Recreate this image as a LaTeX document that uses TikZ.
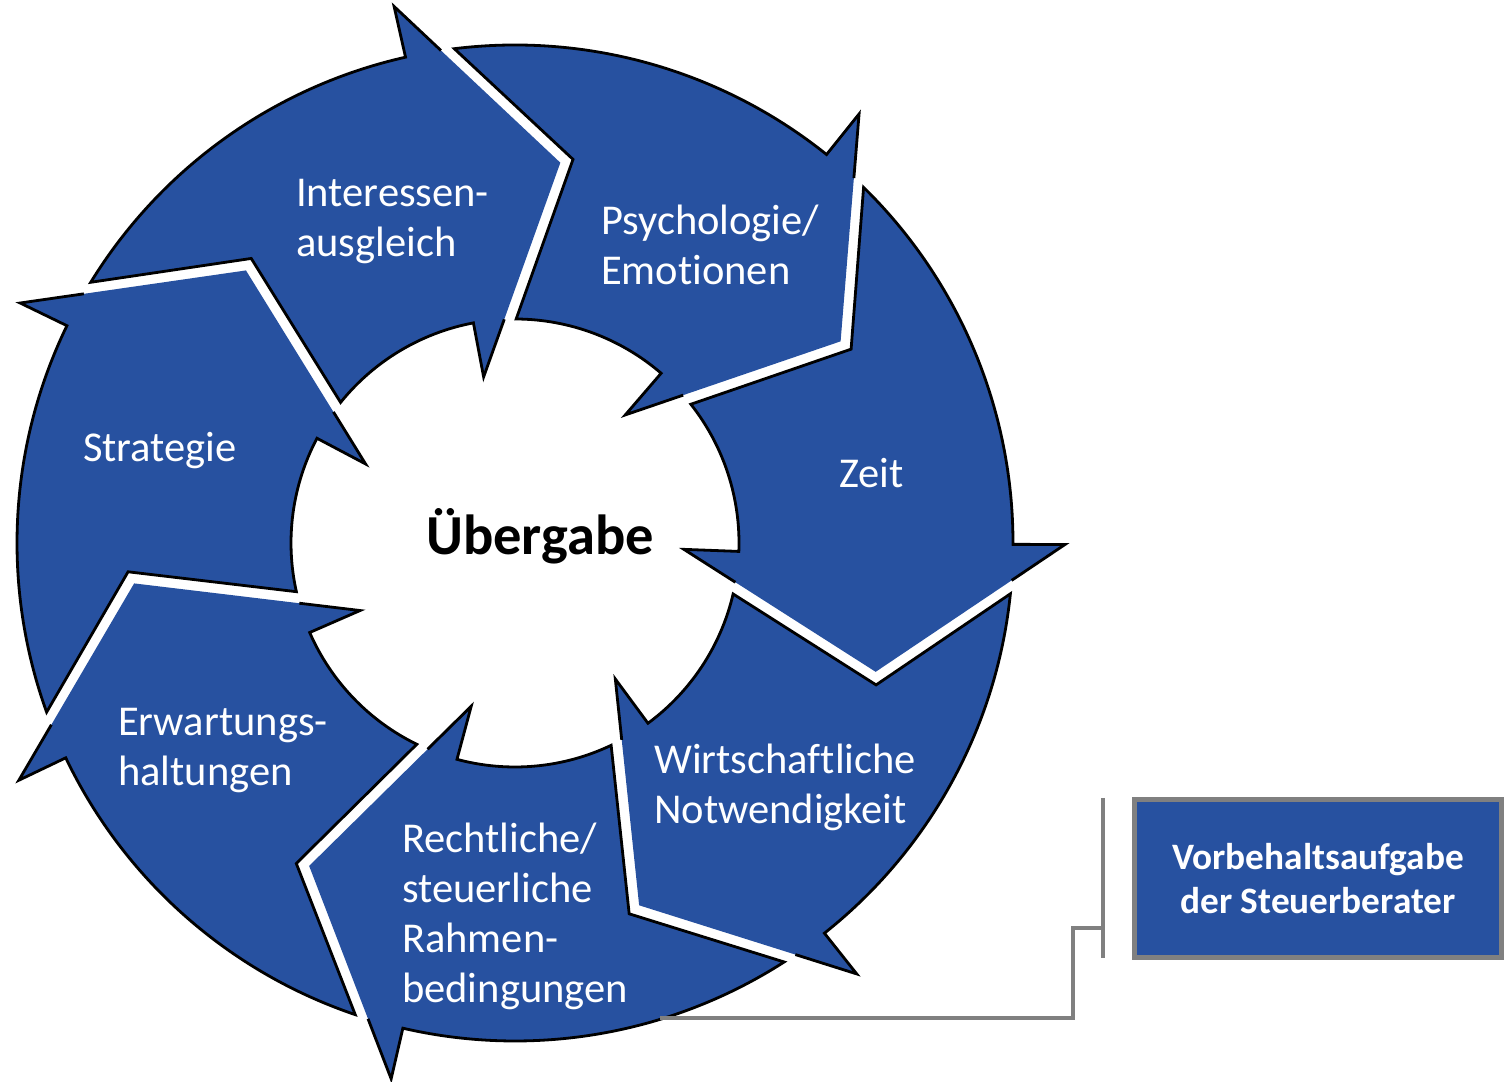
\documentclass[tikz,border=0pt]{standalone}
\usepackage{fontspec}
\setmainfont{Carlito}[Ligatures=NoCommon]
\usetikzlibrary{calc}
\definecolor{ringblue}{RGB}{39,81,160}
\definecolor{bracketgray}{RGB}{128,128,128}

\begin{document}
\begin{tikzpicture}[x=1pt, y=1pt,
    segfill/.style={fill=ringblue},
    segline/.style={draw=black, line width=2.8pt, line join=miter},
    lbl/.style={text=white, font=\fontsize{42.5}{50}\selectfont, align=left, anchor=base west, inner sep=0pt},
    hub/.style={font=\bfseries\fontsize{56.5}{60}\selectfont, anchor=base, inner sep=0pt},
    notebox/.style={fill=ringblue, draw=bracketgray, line width=5pt, minimum width=367pt, minimum height=158pt, text=white, align=center, font=\bfseries\fontsize{37.3}{44}\selectfont},
    bracket/.style={draw=bracketgray, line width=4.5pt}]
  \useasboundingbox (0,0) rectangle (1509,1081);
  \coordinate (C) at (515,538);
  % seven ring arrows, clockwise from the top left
  \foreach \i in {0,...,6}{
    \pgfmathsetmacro\t{102.7-51.4286*\i}
    \begin{scope}[shift={(C)}]
      \coordinate (ob\i) at (\t:550pt);
      \coordinate (tp\i) at (\t-19.5:383pt);
      \coordinate (ib\i) at (\t-2:169pt);
      \fill[segfill] (\t+45.73:498pt) arc[start angle=\t+45.73, end angle=\t, radius=498pt]
        -- (ob\i) -- (tp\i) -- (ib\i) -- (\t-2:224pt)
        arc[start angle=\t-2, end angle=\t+38.43, radius=224pt]
        -- (\t+30.13:388pt) -- cycle;
      \draw[segline] ($(ob\i)!0.282!(tp\i)$) -- (ob\i) -- (\t:498pt)
        arc[start angle=\t, end angle=\t+45.73, radius=498pt]
        -- (\t+30.13:388pt) -- (\t+38.43:224pt)
        arc[start angle=\t+38.43, end angle=\t-2, radius=224pt]
        -- (ib\i) -- ($(tp\i)!0.731!(ib\i)$);
    \end{scope}
  }
  % labels (anchored at the baseline of the last line)
  \node[lbl] (interessen) at (296,824) {Interessen-\\ausgleich};
  \node[lbl] (psycho) at (601,796) {Psychologie/\\Emotionen};
  \node[lbl] (zeit) at (839,593) {Zeit};
  \node[lbl] (wirtschaft) at (654,257) {Wirtschaftliche\\Notwendigkeit};
  \node[lbl] (recht) at (402,78) {Rechtliche/\\steuerliche\\Rahmen-\\bedingungen};
  \node[lbl] (erwartung) at (118,295) {Erwartungs-\\haltungen};
  \node[lbl] (strategie) at (83,619) {Strategie};
  \node[hub] (uebergabe) at (540,526) {Übergabe};
  % note box with bracket
  \node[notebox] (vb) at (1318,202.6) {Vorbehaltsaufgabe\\der Steuerberater};
  \coordinate (brtop) at (1103,283);
  \coordinate (brbot) at (1103,123);
  \coordinate (brmid) at (1103,153);
  \coordinate (rfoot) at (660,63);
  \draw[bracket] (brtop) -- (brbot);
  \draw[bracket] (brmid) -- ++(-30,0) |- (rfoot);
\end{tikzpicture}
\end{document}
